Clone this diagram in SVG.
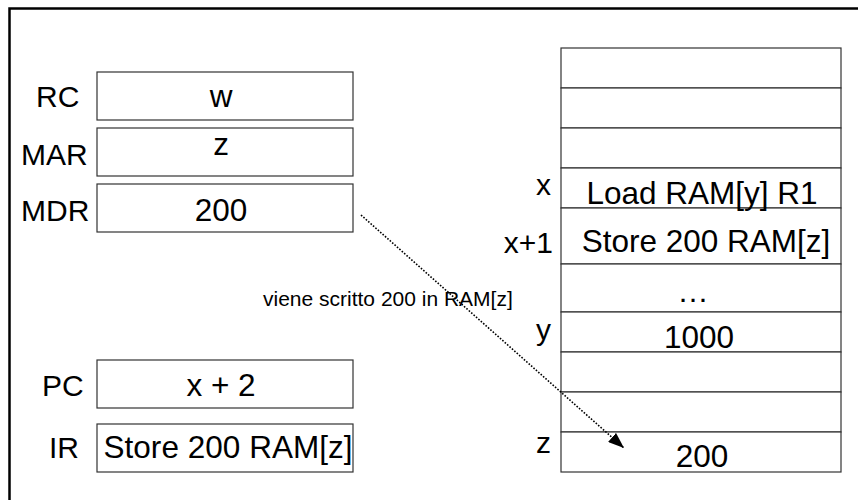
<svg xmlns="http://www.w3.org/2000/svg" width="858" height="500" viewBox="0 0 858 500">
<style>
.frame{fill:none;stroke:#000;stroke-width:2.5}
.box{fill:#fff;stroke:#333;stroke-width:1.2}
.cell{fill:#fff;stroke:#333;stroke-width:1.2}
.lbl{font-family:"Liberation Sans",Arial,sans-serif;font-size:30px;fill:#000}
.val{font-family:"Liberation Sans",Arial,sans-serif;font-size:31.5px;fill:#000;text-anchor:middle}
.ml{font-family:"Liberation Sans",Arial,sans-serif;font-size:30px;fill:#000;text-anchor:end}
.note{font-family:"Liberation Sans",Arial,sans-serif;font-size:21px;fill:#000}
.conn{fill:none;stroke:#000;stroke-width:1.6;stroke-dasharray:1.6 1.6}
</style>
<defs>
<marker id="ah" viewBox="0 0 16 12" refX="16" refY="6" markerWidth="16" markerHeight="12" markerUnits="userSpaceOnUse" orient="auto">
<path d="M0,0 L16,6 L0,12 Z" fill="#000"/>
</marker>
</defs>
<rect class="frame" x="9.5" y="8.5" width="860" height="500"/>
<g id="reg-rc">
<rect class="box" x="97" y="72" width="256" height="48"/>
<text class="lbl" x="36" y="107">RC</text>
<text class="val" x="221" y="107">w</text>
</g>
<g id="reg-mar">
<rect class="box" x="97" y="128" width="256" height="48"/>
<text class="lbl" x="21" y="165">MAR</text>
<text class="val" x="221" y="155">z</text>
</g>
<g id="reg-mdr">
<rect class="box" x="97" y="184" width="256" height="48"/>
<text class="lbl" x="21" y="221">MDR</text>
<text class="val" x="221" y="221">200</text>
</g>
<g id="reg-pc">
<rect class="box" x="97" y="360" width="256" height="48"/>
<text class="lbl" x="42" y="396">PC</text>
<text class="val" x="221" y="396">x + 2</text>
</g>
<g id="reg-ir">
<rect class="box" x="97" y="424" width="256" height="48"/>
<text class="lbl" x="49" y="458">IR</text>
<text class="val" x="228" y="458" textLength="249">Store 200 RAM[z]</text>
</g>
<g id="ram">
<rect class="cell" x="561" y="48" width="280" height="40"/>
<rect class="cell" x="561" y="88" width="280" height="40"/>
<rect class="cell" x="561" y="128" width="280" height="40"/>
<rect class="cell" x="561" y="168" width="280" height="40"/>
<rect class="cell" x="561" y="208" width="280" height="56"/>
<rect class="cell" x="561" y="264" width="280" height="48"/>
<rect class="cell" x="561" y="312" width="280" height="40"/>
<rect class="cell" x="561" y="352" width="280" height="40"/>
<rect class="cell" x="561" y="392" width="280" height="40"/>
<rect class="cell" x="561" y="432" width="280" height="40"/>
<text class="ml" x="551" y="195">x</text>
<text class="val" x="702" y="204">Load RAM[y] R1</text>
<text class="ml" x="553" y="253">x+1</text>
<text class="val" x="706" y="252">Store 200 RAM[z]</text>
<text class="val" x="693" y="302">…</text>
<text class="ml" x="551" y="340">y</text>
<text class="val" x="699" y="348">1000</text>
<text class="ml" x="551" y="453">z</text>
<text class="val" x="702" y="467">200</text>
</g>
<g id="connectors">
<line class="conn" x1="361" y1="215" x2="624" y2="448" marker-end="url(#ah)"/>
<text class="note" x="263" y="306">viene scritto 200 in RAM[z]</text>
</g>
</svg>
